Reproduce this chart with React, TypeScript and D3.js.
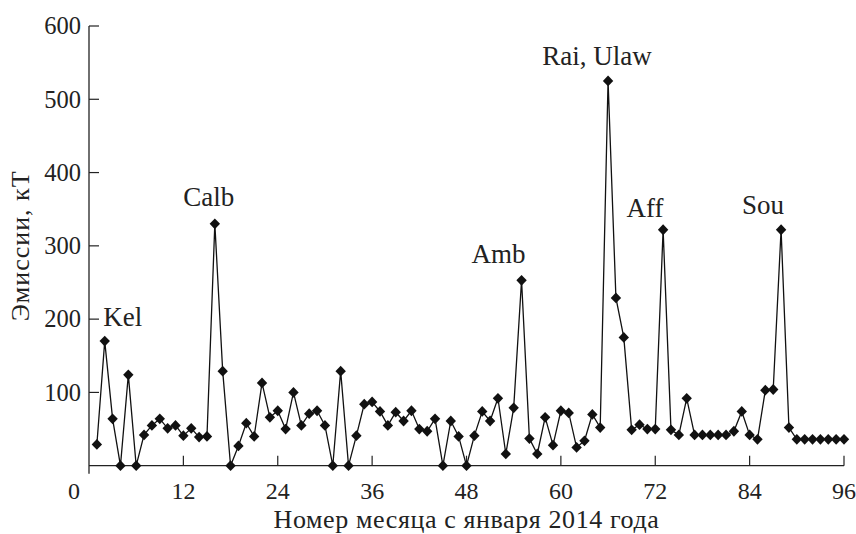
import React from "react";
import * as d3 from "d3";

const months: number[] = Array.from({ length: 96 }, (_, i) => i + 1);
const emissions: number[] = [
  29, 170, 64, 0, 124, 0, 42, 55, 64, 51, 55, 41, 51, 39, 40, 330,
  129, 0, 27, 58, 40, 113, 66, 75, 50, 100, 55, 71, 75, 55, 0, 129,
  0, 41, 84, 87, 74, 55, 73, 61, 75, 50, 47, 64, 0, 61, 40, 0,
  41, 74, 61, 92, 16, 79, 253, 37, 16, 66, 28, 75, 72, 25, 34, 70,
  52, 525, 229, 175, 49, 56, 50, 50, 322, 49, 42, 92, 42, 42, 42, 42,
  42, 47, 74, 42, 36, 103, 104, 322, 52, 36, 36, 36, 36, 36, 36, 36,
];
const xTicks: number[] = [0, 12, 24, 36, 48, 60, 72, 84, 96];
const yTicks: number[] = [100, 200, 300, 400, 500, 600];
const eventNames: string[] = ["Kel", "Calb", "Amb", "Rai, Ulaw", "Aff", "Sou"];
const eventMonths: number[] = [2, 16, 55, 66, 73, 88];
// label offsets relative to the marked point (dx, dy, anchor)
const eventDx: number[] = [-1.5, -6, -23, -11, -18, -18];
const eventDy: number[] = [-15, -18, -17, -16, -13, -16];
const eventAnchor: string[] = ["start", "middle", "middle", "middle", "middle", "middle"];

const W = 856;
const H = 534;
const left = 89;
const right = 844;
const top = 26;
const bottom = 465.7;
const FONT = "'Liberation Serif', 'Times New Roman', serif";

export default function App() {
  const x = d3.scaleLinear().domain([0, 96]).range([left, right]);
  const y = d3.scaleLinear().domain([0, 600]).range([bottom, top]);
  const line = d3
    .line<number>()
    .x((_, i) => x(months[i]))
    .y((d) => y(d));
  const diamond = (cx: number, cy: number) =>
    `M${cx},${cy - 5.4}L${cx + 5.2},${cy}L${cx},${cy + 5.4}L${cx - 5.2},${cy}Z`;

  return (
    <svg
      width={W}
      height={H}
      style={{ position: "absolute", left: 0, top: 0, background: "#fff" }}
      fontFamily={FONT}
    >
      <rect width={W} height={H} fill="#fff" />
      {/* axes */}
      <line x1={left} x2={left} y1={top} y2={bottom + 8} stroke="#222" strokeWidth={1.3} />
      <line x1={left} x2={right} y1={bottom} y2={bottom} stroke="#222" strokeWidth={1.3} />
      {yTicks.map((t) => (
        <g key={"y" + t}>
          <line x1={left} x2={left + 10} y1={y(t)} y2={y(t)} stroke="#222" strokeWidth={1.2} />
          <text x={left - 8} y={y(t)} dy="0.34em" textAnchor="end" fontSize={24.5} fill="#222">
            {t}
          </text>
        </g>
      ))}
      {xTicks.map((t) => (
        <g key={"x" + t}>
          {t > 0 && (
            <line x1={x(t)} x2={x(t)} y1={bottom} y2={bottom - 10} stroke="#222" strokeWidth={1.2} />
          )}
          <text
            x={t === 0 ? x(t) - 15 : x(t)}
            y={499}
            textAnchor="middle"
            fontSize={24}
            fill="#222"
          >
            {t}
          </text>
        </g>
      ))}
      <text
        x={(left + right) / 2}
        y={528}
        textAnchor="middle"
        fontSize={26}
        letterSpacing={0.6}
        fill="#222"
      >
        Номер месяца с января 2014 года
      </text>
      <text
        transform={`translate(28.5, ${(top + bottom) / 2}) rotate(-90)`}
        textAnchor="middle"
        fontSize={26}
        letterSpacing={1}
        fill="#222"
      >
        Эмиссии, кТ
      </text>
      {/* series */}
      <path d={line(emissions) || ""} fill="none" stroke="#111" strokeWidth={1.3} />
      {emissions.map((v, i) => (
        <path key={"m" + i} d={diamond(x(months[i]), y(v))} fill="#111" />
      ))}
      {eventNames.map((n, i) => {
        const m = eventMonths[i];
        const v = emissions[m - 1];
        return (
          <text
            key={"e" + i}
            x={x(m) + eventDx[i]}
            y={y(v) + eventDy[i]}
            textAnchor={eventAnchor[i] as any}
            fontSize={27}
            fill="#222"
          >
            {n}
          </text>
        );
      })}
    </svg>
  );
}
